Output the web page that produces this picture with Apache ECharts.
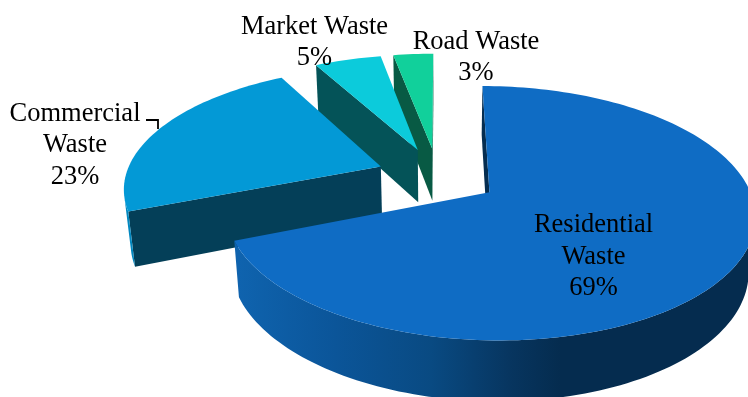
<!DOCTYPE html>
<html>
<head>
<meta charset="utf-8">
<style>html,body{margin:0;padding:0;background:#fff}#chart{width:748px;height:397px}</style>
<script src="https://cdn.jsdelivr.net/npm/echarts@6/dist/echarts.min.js"></script>
</head>
<body>
<div id="chart"></div>
<script>
// Solid waste sources, percent of total
const categories = ['Residential Waste', 'Commercial Waste', 'Market Waste', 'Road Waste'];
const shares = [69, 23, 5, 3];

// Colours per slice
const topColors = ['#0F6CC4', '#0399D6', '#0CCBDB', '#11D09B'];
const wallColors = ['#052D50', '#043F58', '#045358', '#085A44'];
const rimColors = [null, '#0288C0', '#0AB0BE', '#0EB486'];

// Label text blocks: centre x, centre y, wrapped name lines
const labelLayout = [
  { x: 593.5, y: 257, lines: ['Residential', 'Waste'] },
  { x: 75, y: 145.5, lines: ['Commercial', 'Waste'] },
  { x: 314.5, y: 42.5, lines: ['Market Waste'] },
  { x: 476, y: 57.5, lines: ['Road Waste'] }
];

// Perspective camera for the tilted pie (pie radius is 1 world unit)
const cam = { px: 440, py: 200, focal: 1387, sinT: 0.479, cosT: 0.878, dist: 5.26 };
const pie = { ox: -0.009, oy: -0.197, explode: 0.24, depth: 0.241 };
const eye = { y: cam.dist * cam.cosT, z: cam.dist * cam.sinT };

function project(x, y, z) {
  const w = cam.dist - y * cam.cosT - z * cam.sinT;
  return [
    cam.px + cam.focal * x / w,
    cam.py + cam.focal * (y * cam.sinT - z * cam.cosT) / w
  ];
}

// Angles run clockwise from the far side of the pie
const total = shares.reduce((a, b) => a + b, 0);
const rad = d => d * Math.PI / 180;

function rimAngles(a0, a1) {
  const out = [];
  const n = Math.max(4, Math.ceil((a1 - a0) / 1.5));
  for (let i = 0; i <= n; i++) out.push(a0 + (a1 - a0) * i / n);
  return out;
}

const residentialRim = new echarts.graphic.LinearGradient(239, 0, 560, 0, [
  { offset: 0, color: '#0F63AE' },
  { offset: 0.3, color: '#0B5599' },
  { offset: 0.6, color: '#094A82' },
  { offset: 0.85, color: '#07355F' },
  { offset: 1, color: '#052C4F' }
], true);

function renderSlice(params, api) {
  const idx = api.value(0);
  const start = shares.slice(0, idx).reduce((a, b) => a + b, 0) / total * 360;
  const end = start + api.value(1) / total * 360;
  const mid = rad((start + end) / 2);
  const cx = pie.ox + pie.explode * Math.sin(mid);
  const cy = pie.oy - pie.explode * Math.cos(mid);
  const h = pie.depth;

  const poly = (points, fill) => ({
    type: 'polygon',
    shape: { points },
    style: { fill, stroke: null }
  });
  const onRim = (deg, z) => {
    const a = rad(deg);
    return project(cx + Math.sin(a), cy - Math.cos(a), z);
  };
  const cutFace = (deg) => [onRim(deg, 0), project(cx, cy, 0), project(cx, cy, -h), onRim(deg, -h)];

  // A cut face shows only when its outward normal points at the eye
  const cutVisible = (deg, sign) => {
    const a = rad(deg);
    return sign * (Math.cos(a) * (0 - cx) + Math.sin(a) * (eye.y - cy)) > 0;
  };
  // The curved side shows only where the rim normal points at the eye
  const rimVisible = (deg) => {
    const a = rad(deg);
    const nx = Math.sin(a), ny = -Math.cos(a);
    return nx * (0 - cx - nx) + ny * (eye.y - cy - ny) > 0;
  };

  const angles = rimAngles(start, end);
  const frontAngles = angles.filter(rimVisible);
  const children = [];

  if (cutVisible(start, -1)) children.push(poly(cutFace(start), wallColors[idx]));
  if (cutVisible(end, 1)) children.push(poly(cutFace(end), wallColors[idx]));
  if (frontAngles.length > 1) {
    const upper = frontAngles.map(a => onRim(a, 0));
    const lower = frontAngles.map(a => onRim(a, -h)).reverse();
    children.push(poly(upper.concat(lower), rimColors[idx] || residentialRim));
  }
  children.push(poly(angles.map(a => onRim(a, 0)).concat([project(cx, cy, 0)]), topColors[idx]));

  const lay = labelLayout[idx];
  children.push({
    type: 'text',
    z2: 50,
    style: {
      text: lay.lines.concat([api.value(1) + '%']).join('\n'),
      x: lay.x,
      y: lay.y,
      fill: '#000',
      font: '26.5px "Liberation Serif"',
      lineHeight: 31.5,
      align: 'center',
      verticalAlign: 'middle'
    }
  });

  // Leader line for the label sitting outside the Commercial slice
  if (idx === 1) {
    children.push({
      type: 'polyline',
      z2: 50,
      shape: { points: [[146, 120], [158, 120], [158, 129]] },
      style: { stroke: '#000', lineWidth: 1.8, fill: null }
    });
  }
  return { type: 'group', children };
}

// Painted back to front: the far slices first, Residential last
const paintOrder = shares.map((v, i) => [i, v]).reverse();

const chart = echarts.init(document.getElementById('chart'), null, { renderer: 'canvas' });
chart.setOption({
  backgroundColor: '#fff',
  animation: false,
  series: [{
    type: 'custom',
    coordinateSystem: 'none',
    silent: true,
    clip: false,
    renderItem: renderSlice,
    data: paintOrder
  }]
});
</script>
</body>
</html>
